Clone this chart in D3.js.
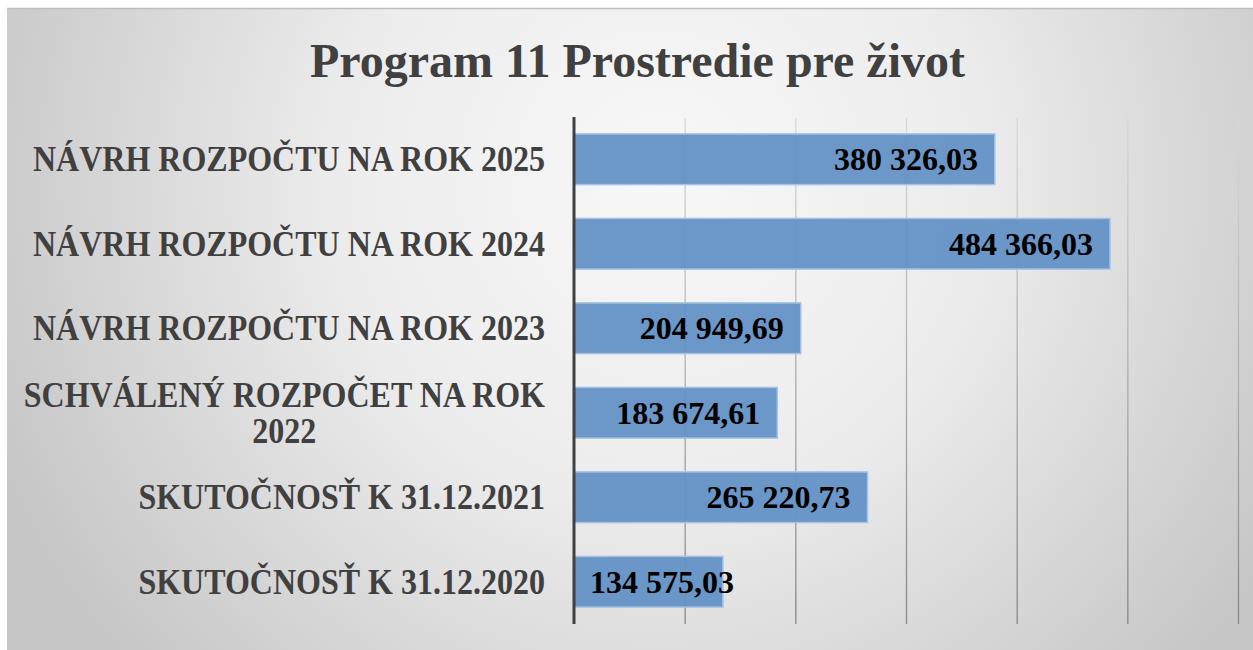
<!DOCTYPE html>
<html>
<head>
<meta charset="utf-8">
<script src="https://cdn.jsdelivr.net/npm/d3@7"></script>
<style>
  html, body { margin: 0; padding: 0; background: #fff; }
  svg { display: block; }
</style>
</head>
<body>
<div id="chart"></div>
<script>
// data, top row first
var categories = [
    "NÁVRH ROZPOČTU NA ROK 2025",
    "NÁVRH ROZPOČTU NA ROK 2024",
    "NÁVRH ROZPOČTU NA ROK 2023",
    "SCHVÁLENÝ ROZPOČET NA ROK 2022",
    "SKUTOČNOSŤ K 31.12.2021",
    "SKUTOČNOSŤ K 31.12.2020"
];
var values = [380326.03, 484366.03, 204949.69, 183674.61, 265220.73, 134575.03];
var xTicks = [0, 100000, 200000, 300000, 400000, 500000, 600000];
var title = "Program 11 Prostredie pre život";

var W = 1253, H = 650;
var serif = "'Liberation Serif', 'Times New Roman', serif";

var svg = d3.select("#chart").append("svg")
    .attr("width", W)
    .attr("height", H);

var defs = svg.append("defs");

var bg = defs.append("radialGradient")
    .attr("id", "bg")
    .attr("gradientUnits", "userSpaceOnUse")
    .attr("cx", 660).attr("cy", 180).attr("r", 720);
bg.append("stop").attr("offset", 0).attr("stop-color", "#f8f8f8");
bg.append("stop").attr("offset", 0.45).attr("stop-color", "#ececec");
bg.append("stop").attr("offset", 1).attr("stop-color", "#c6c6c6");

var gridGrad = defs.append("linearGradient")
    .attr("id", "gridGrad")
    .attr("gradientUnits", "userSpaceOnUse")
    .attr("x1", 0).attr("x2", 0).attr("y1", 118).attr("y2", 624);
gridGrad.append("stop").attr("offset", 0).attr("stop-color", "#d8d8d8");
gridGrad.append("stop").attr("offset", 1).attr("stop-color", "#868686");

// chart frame
svg.append("rect")
    .attr("x", 7).attr("y", 8)
    .attr("width", W - 7).attr("height", H - 8)
    .attr("fill", "url(#bg)");
svg.append("line")
    .attr("x1", 7).attr("x2", W)
    .attr("y1", 8.5).attr("y2", 8.5)
    .attr("stroke", "#bdbdbd").attr("stroke-width", 1.5);

var x = d3.scaleLinear()
    .domain([0, 600000])
    .range([574, 1238]);

var y = d3.scaleBand()
    .domain(categories)
    .range([117, 624])
    .paddingInner(0.4)
    .paddingOuter(0.2);

// vertical gridlines
svg.append("g")
    .selectAll("line")
    .data(xTicks.slice(1))
    .enter()
    .append("line")
    .attr("x1", function(d){ return x(d) + 0.5; })
    .attr("x2", function(d){ return x(d) + 0.5; })
    .attr("y1", 118).attr("y2", 624)
    .attr("stroke", "url(#gridGrad)")
    .attr("stroke-width", 1.3);

// bars
svg.append("g")
    .selectAll("rect")
    .data(values)
    .enter()
    .append("rect")
    .attr("x", x(0))
    .attr("y", function(d, i){ return y(categories[i]); })
    .attr("width", function(d){ return x(d) - x(0); })
    .attr("height", y.bandwidth())
    .attr("fill", "#6391c6")
    .attr("fill-opacity", 0.95)
    .attr("stroke", "#a8c2e4")
    .attr("stroke-width", 1.5);

// category axis
svg.append("line")
    .attr("x1", x(0)).attr("x2", x(0))
    .attr("y1", 117).attr("y2", 624)
    .attr("stroke", "#404040")
    .attr("stroke-width", 3);

var fmt = function(v){
    var parts = v.toFixed(2).split(".");
    return parts[0].replace(/\B(?=(\d{3})+(?!\d))/g, " ") + "," + parts[1];
};

// value labels, inside end
svg.append("g")
    .selectAll("text")
    .data(values)
    .enter()
    .append("text")
    .attr("y", function(d, i){ return y(categories[i]) + y.bandwidth() / 2; })
    .attr("dy", "0.35em")
    .attr("font-family", serif)
    .attr("font-weight", "bold")
    .attr("font-size", 32)
    .attr("fill", "#000")
    .text(function(d){ return fmt(d); })
    .each(function(d){
        var w = this.getComputedTextLength();
        var xx = Math.max(x(d) - 17 - w, x(0) + 16);
        d3.select(this).attr("x", xx);
    });

// category labels, wrapped like the original
// (original glyphs are a bit taller than Liberation, so stretch a little)
var labelRight = 545, maxW = 530, stretch = 1.09;
var labels = svg.append("g")
    .selectAll("g")
    .data(categories)
    .enter()
    .append("g")
    .attr("transform", function(c){
        var cy = y(c) + y.bandwidth() / 2;
        return "translate(0," + cy + ") scale(1," + stretch + ") translate(0," + (-cy) + ")";
    })
    .append("text")
    .attr("font-family", serif)
    .attr("font-weight", "bold")
    .attr("font-size", 32)
    .attr("fill", "#404040");

labels.each(function(c){
    var t = d3.select(this);
    var words = c.split(" "), lines = [], cur = "";
    words.forEach(function(w){
        var test = cur ? cur + " " + w : w;
        t.text(test);
        if (this.getComputedTextLength() > maxW && cur) {
            lines.push(cur);
            cur = w;
        } else {
            cur = test;
        }
    }, this);
    lines.push(cur);
    t.text(null);
    var cy = y(c) + y.bandwidth() / 2;
    var lh = 33;
    if (lines.length == 1) {
        t.attr("x", labelRight).attr("y", cy).attr("dy", "0.35em")
            .attr("text-anchor", "end").text(lines[0]);
    } else {
        // measure widest line, centre the block on it
        var widest = 0;
        lines.forEach(function(l){
            t.text(l);
            widest = Math.max(widest, this.getComputedTextLength());
        }, this);
        t.text(null);
        var cx = labelRight - widest / 2;
        t.attr("text-anchor", "middle");
        lines.forEach(function(l, k){
            t.append("tspan")
                .attr("x", cx)
                .attr("y", cy + (k - (lines.length - 1) / 2) * lh)
                .attr("dy", "0.35em")
                .text(l);
        });
    }
});

// title
svg.append("text")
    .attr("x", 637.5)
    .attr("y", 77)
    .attr("text-anchor", "middle")
    .attr("font-family", serif)
    .attr("font-weight", "bold")
    .attr("font-size", 48)
    .attr("fill", "#404040")
    .text(title);
</script>
</body>
</html>
